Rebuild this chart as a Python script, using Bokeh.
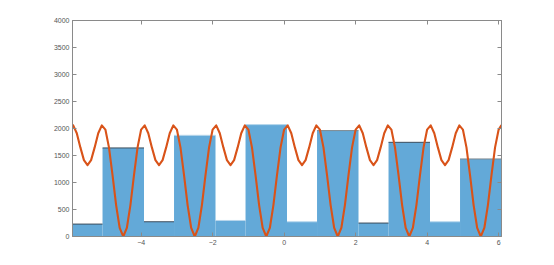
from bokeh.plotting import figure
from bokeh.models import Range1d, FixedTicker, LinearAxis
from bokeh.embed import file_html
from bokeh.resources import INLINE

# ---- data ----
bar_left = [-5.92, -5.08, -3.92, -3.08, -1.92, -1.08, 0.08, 0.92, 2.08, 2.92, 4.08, 4.92]
bar_right = [-5.08, -3.92, -3.08, -1.92, -1.08, 0.08, 0.92, 2.08, 2.92, 4.08, 4.92, 6.08]
bar_height = [230, 1640, 273, 1874, 297, 2072, 273, 1961, 249, 1744, 273, 1436]

curve_x = [-5.92] + [round(-5.9 + 0.1 * i, 2) for i in range(120)] + [6.08]
curve_y = [2062,
    2058, 1912, 1650, 1414, 1320, 1414, 1650, 1912, 2058, 1980, 1650, 1136, 582, 158, 0, 158, 582, 1136, 1650, 1980,
    2058, 1912, 1650, 1414, 1320, 1414, 1650, 1912, 2058, 1980, 1650, 1136, 582, 158, 0, 158, 582, 1136, 1650, 1980,
    2058, 1912, 1650, 1414, 1320, 1414, 1650, 1912, 2058, 1980, 1650, 1136, 582, 158, 0, 158, 582, 1136, 1650, 1980,
    2058, 1912, 1650, 1414, 1320, 1414, 1650, 1912, 2058, 1980, 1650, 1136, 582, 158, 0, 158, 582, 1136, 1650, 1980,
    2058, 1912, 1650, 1414, 1320, 1414, 1650, 1912, 2058, 1980, 1650, 1136, 582, 158, 0, 158, 582, 1136, 1650, 1980,
    2058, 1912, 1650, 1414, 1320, 1414, 1650, 1912, 2058, 1980, 1650, 1136, 582, 158, 0, 158, 582, 1136, 1650, 1980,
    2062]

x_ticks = [-4, -2, 0, 2, 4, 6]
y_ticks = [0, 500, 1000, 1500, 2000, 2500, 3000, 3500, 4000]

# ---- styles ----
edge_colors = ["#3c4d5c", "#3c4d5c", "#3c4d5c", "#b8d7ec", "#b8d7ec", "#b8d7ec",
               "#b8d7ec", "#7d8890", "#3c4d5c", "#3c4d5c", "#b8d7ec", "#7d8890"]
AX = "#8a8a8a"
LBL = "#555555"

p = figure(width=546, height=257, output_backend="svg", toolbar_location=None,
           x_range=Range1d(-5.92, 6.08), y_range=Range1d(0, 4000),
           min_border_left=72, min_border_right=45, min_border_top=20, min_border_bottom=21)
p.xgrid.visible = False
p.ygrid.visible = False
p.outline_line_color = AX
p.outline_line_width = 1
p.background_fill_color = "white"
p.border_fill_color = "white"

p.quad(left=bar_left, right=bar_right, bottom=0, top=bar_height,
       fill_color="#63A9D8", line_color=None)
p.segment(x0=bar_left, x1=bar_right, y0=bar_height, y1=bar_height,
          line_color=edge_colors, line_width=1)
p.line(curve_x, curve_y, line_color="#D95319", line_width=2.1, line_join="round")

def style(ax, ticks, labels=True):
    ax.ticker = FixedTicker(ticks=ticks)
    ax.axis_line_color = AX
    ax.major_tick_line_color = AX
    ax.major_tick_in = 4
    ax.major_tick_out = 0
    ax.minor_tick_line_color = None
    ax.major_label_text_font = "Liberation Sans"
    ax.major_label_text_font_size = "7px"
    if labels:
        ax.major_label_text_color = LBL
        ax.major_label_standoff = 3
    else:
        ax.major_label_text_color = None
        ax.major_label_standoff = 0

style(p.xaxis[0], x_ticks)
style(p.yaxis[0], y_ticks)
top = LinearAxis()
right = LinearAxis()
style(top, x_ticks, labels=False)
style(right, y_ticks, labels=False)
p.add_layout(top, "above")
p.add_layout(right, "right")

open("out.html", "w").write(file_html(p, INLINE))
